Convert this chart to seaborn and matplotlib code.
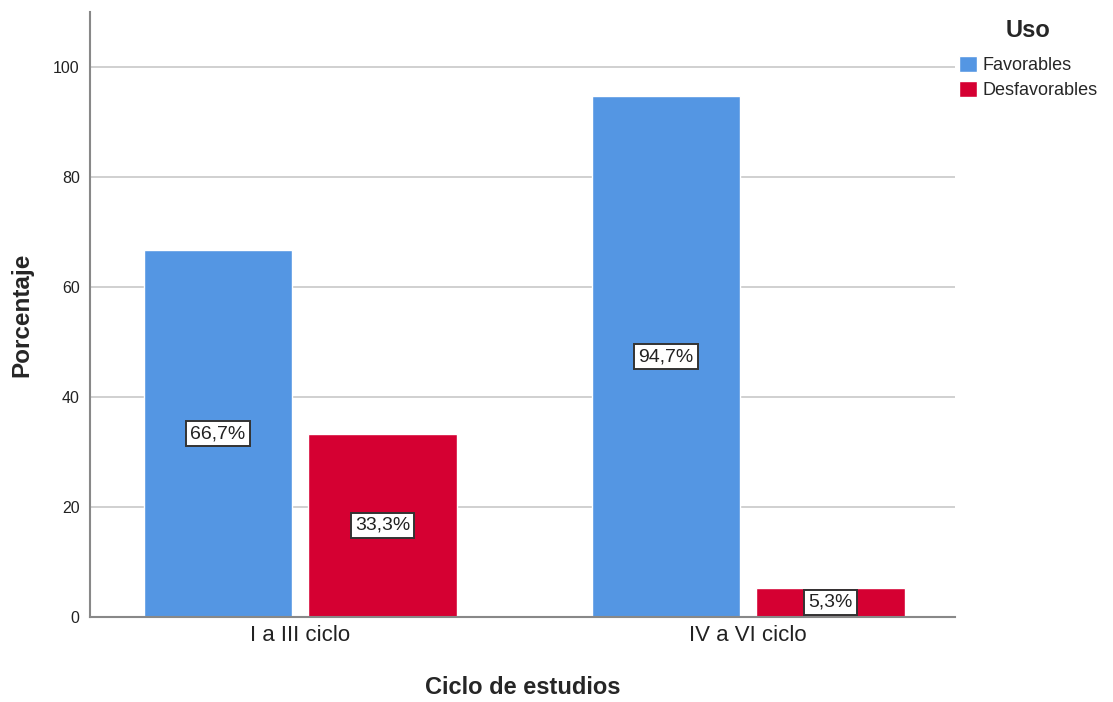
import pandas as pd
import matplotlib.pyplot as plt
import seaborn as sns

# data
ciclos = ['I a III ciclo', 'IV a VI ciclo']
uso = ['Favorables', 'Desfavorables']
favorables = [66.7, 94.7]
desfavorables = [33.3, 5.3]

df = pd.DataFrame({
	'ciclo': ciclos * 2,
	'uso': [uso[0]] * 2 + [uso[1]] * 2,
	'pct': favorables + desfavorables,
})

sns.set_theme(style='white')
plt.rcParams['font.family'] = ['Liberation Sans', 'DejaVu Sans']

fig, ax = plt.subplots(figsize=(11.13, 7.02), dpi=100)
fig.subplots_adjust(left=0.081, right=0.858, top=0.983, bottom=0.121)

palette = {'Favorables': '#5496E3', 'Desfavorables': '#D50032'}
sns.barplot(data=df, x='ciclo', y='pct', hue='uso', hue_order=uso,
			palette=palette, width=0.735, gap=0.098, saturation=1,
			order=ciclos, ax=ax, zorder=2)

# labels centred in each bar, boxed
for cont in ax.containers:
	for bar in cont:
		h = bar.get_height()
		ax.text(bar.get_x() + bar.get_width() / 2, h / 2,
				f"{h:.1f}%".replace('.', ','), ha='center', va='center',
				fontsize=14, color='#222222', zorder=4,
				bbox=dict(boxstyle='square,pad=0.22', fc='white', ec='#333333', lw=1.4))

ax.set_ylim(0, 110)
ax.set_xlim(-0.469, 1.462)
ax.set_yticks([0, 20, 40, 60, 80, 100])
ax.yaxis.grid(True, color='#C8C8C8', lw=1.2, zorder=0)
ax.set_axisbelow(True)
ax.tick_params(axis='y', labelsize=11.5, length=4, color='#888888', colors='#222222')
ax.tick_params(axis='x', labelsize=16, length=0, pad=6, colors='#222222')
for s in ['top', 'right']:
	ax.spines[s].set_visible(False)
for s in ['left', 'bottom']:
	ax.spines[s].set_color('#888888')
	ax.spines[s].set_linewidth(1.5)

ax.set_xlabel('Ciclo de estudios', fontsize=17, fontweight='bold', labelpad=21)
ax.set_ylabel('Porcentaje', fontsize=17.5, fontweight='bold', labelpad=14)

leg = ax.legend(title='Uso', loc='upper left', bbox_to_anchor=(0.996, 1.0),
				frameon=False, fontsize=13, handlelength=1.0, handleheight=1.0,
				handletextpad=0.3, labelspacing=0.35, borderaxespad=0.0)
leg.get_title().set_fontweight('bold')
leg.get_title().set_fontsize(17)
# a bit more room between the title and the entries
leg._legend_box.sep = 10

plt.savefig('out.png')
